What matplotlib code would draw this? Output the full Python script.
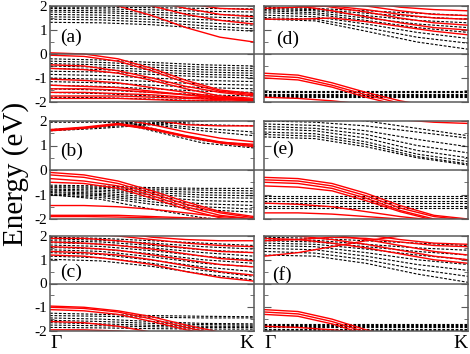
import numpy as np
import matplotlib
matplotlib.use("Agg")
import matplotlib.pyplot as plt
from matplotlib.ticker import MultipleLocator

plt.rcParams['font.family'] = ['Liberation Serif', 'DejaVu Serif']
plt.rcParams['axes.unicode_minus'] = False

# bands along Gamma -> K (eV), each list sampled evenly from Gamma to K
a_red = [
    [2.5, 2.3, 2.0, 1.6, 1.1, 0.7, 0.5],
    [2.7, 2.5, 2.3, 2.0, 1.65, 1.4, 1.25],
    [2.8, 2.65, 2.45, 2.2, 1.9, 1.65, 1.55],
    [2.9, 2.8, 2.6, 2.35, 2.1, 1.9, 1.85],
    [0.05, 0.0, -0.2, -0.6, -1.1, -1.5, -1.65],
    [-0.05, -0.1, -0.3, -0.7, -1.2, -1.55, -1.7],
    [-0.45, -0.5, -0.7, -1.0, -1.35, -1.6, -1.75],
    [-0.6, -0.65, -0.8, -1.1, -1.45, -1.75, -1.85],
    [-1.05, -1.1, -1.2, -1.4, -1.6, -1.8, -1.9],
    [-1.3, -1.35, -1.4, -1.55, -1.7, -1.85, -1.95],
    [-1.45, -1.45, -1.5, -1.6, -1.7, -1.8, -1.9],
    [-1.6, -1.6, -1.65, -1.7, -1.8, -1.85, -1.95],
    [-1.75, -1.75, -1.75, -1.8, -1.85, -1.9, -1.95],
    [-1.85, -1.85, -1.85, -1.9, -1.95, -1.95, -2.0],
]
a_black = [
    [1.95, 1.95, 1.93, 1.9, 1.88],
    [1.9, 1.88, 1.84, 1.78, 1.75],
    [1.82, 1.8, 1.74, 1.66, 1.6],
    [1.75, 1.72, 1.65, 1.55, 1.48],
    [1.65, 1.62, 1.55, 1.43, 1.35],
    [1.55, 1.52, 1.44, 1.3, 1.2],
    [1.45, 1.42, 1.33, 1.18, 1.05],
    [1.32, 1.3, 1.22, 1.07, 0.95],
    [-0.2, -0.25, -0.35, -0.45, -0.5],
    [-0.3, -0.35, -0.45, -0.55, -0.6],
    [-0.4, -0.45, -0.55, -0.65, -0.7],
    [-0.5, -0.55, -0.65, -0.75, -0.8],
    [-0.6, -0.65, -0.75, -0.85, -0.9],
    [-0.72, -0.75, -0.85, -0.95, -1.0],
    [-0.85, -0.9, -1.0, -1.1, -1.15],
    [-1.0, -1.05, -1.15, -1.25, -1.3],
    [-1.15, -1.2, -1.3, -1.4, -1.45],
    [-1.3, -1.35, -1.45, -1.55, -1.6],
    [-1.45, -1.5, -1.6, -1.7, -1.75],
    [-1.6, -1.65, -1.75, -1.85, -1.9],
    [-1.8, -1.82, -1.88, -1.95, -2.0],
]

b_red = [
    [1.65, 1.75, 1.9, 1.7, 1.4, 1.15, 1.0],
    [1.6, 1.7, 1.85, 1.65, 1.35, 1.1, 0.95],
    [1.62, 1.72, 1.87, 1.67, 1.38, 1.13, 1.05],
    [2.4, 2.3, 2.1, 1.85, 1.55, 1.3, 1.15],
    [2.6, 2.5, 2.3, 2.05, 1.85, 1.8, 1.8],
    [-0.1, -0.2, -0.45, -0.85, -1.3, -1.7, -1.9],
    [-0.2, -0.3, -0.55, -0.95, -1.4, -1.75, -1.95],
    [-0.35, -0.45, -0.65, -1.05, -1.5, -1.85, -2.0],
    [-0.5, -0.55, -0.75, -1.15, -1.6, -1.95, -2.1],
    [-1.45, -1.45, -1.5, -1.6, -1.75, -1.9, -2.0],
    [-1.85, -1.85, -1.85, -1.9, -1.95, -2.0, -2.05],
    [-1.9, -1.9, -1.92, -1.95, -2.0, -2.05, -2.1],
]
b_black = [
    [1.6, 1.7, 1.85, 2.0, 2.15],
    [1.65, 1.75, 1.9, 2.05, 2.2],
    [1.95, 1.95, 1.85, 1.6, 1.4],
    [2.05, 2.0, 1.9, 1.7, 1.55],
    [2.2, 2.1, 1.95, 1.85, 1.8],
    [2.3, 2.1, 1.6, 1.1, 0.9],
    [2.4, 2.2, 1.7, 1.2, 1.0],
    [-0.62, -0.65, -0.72, -0.75, -0.75],
    [-0.68, -0.7, -0.78, -0.82, -0.85],
    [-0.72, -0.75, -0.85, -0.92, -0.95],
    [-0.78, -0.82, -0.92, -1.02, -1.05],
    [-0.82, -0.88, -1.0, -1.12, -1.15],
    [-0.88, -0.95, -1.1, -1.25, -1.3],
    [-0.92, -1.0, -1.2, -1.38, -1.45],
    [-0.98, -1.05, -1.3, -1.5, -1.6],
    [-1.03, -1.12, -1.4, -1.62, -1.72],
    [-1.0, -1.2, -1.6, -1.95, -2.1],
]

c_red = [
    [1.2, 1.15, 1.0, 0.8, 0.5, 0.25, 0.1],
    [1.35, 1.3, 1.2, 1.0, 0.75, 0.5, 0.35],
    [1.55, 1.5, 1.4, 1.2, 1.0, 0.8, 0.7],
    [1.75, 1.7, 1.6, 1.45, 1.25, 1.05, 0.95],
    [1.9, 1.9, 1.8, 1.65, 1.5, 1.35, 1.3],
    [2.2, 2.1, 2.0, 1.85, 1.7, 1.6, 1.55],
    [2.4, 2.3, 2.15, 1.95, 1.85, 1.8, 1.8],
    [-0.95, -1.0, -1.15, -1.4, -1.75, -2.05, -2.3],
    [-1.0, -1.05, -1.2, -1.5, -1.85, -2.15, -2.3],
    [-1.1, -1.15, -1.3, -1.6, -1.95, -2.2, -2.3],
    [-1.6, -1.65, -1.8, -2.05, -2.25, -2.3, -2.3],
    [-1.95, -1.95, -2.0, -2.1, -2.2, -2.3, -2.3],
]
c_black = [
    [1.95, 1.9, 1.8, 1.7, 1.6],
    [1.88, 1.82, 1.7, 1.55, 1.45],
    [1.8, 1.75, 1.6, 1.42, 1.3],
    [1.72, 1.66, 1.5, 1.3, 1.15],
    [1.62, 1.56, 1.38, 1.15, 1.0],
    [1.52, 1.45, 1.25, 1.0, 0.85],
    [1.42, 1.35, 1.12, 0.85, 0.7],
    [1.3, 1.22, 0.98, 0.7, 0.5],
    [1.15, 1.08, 0.85, 0.55, 0.3],
    [1.02, 0.95, 0.72, 0.4, 0.15],
    [-1.25, -1.3, -1.35, -1.38, -1.4],
    [-1.35, -1.38, -1.42, -1.45, -1.45],
    [-1.45, -1.5, -1.6, -1.68, -1.7],
    [-1.55, -1.6, -1.68, -1.73, -1.75],
    [-1.65, -1.7, -1.76, -1.8, -1.8],
    [-1.75, -1.78, -1.82, -1.85, -1.85],
    [-1.85, -1.87, -1.9, -1.92, -1.92],
]

d_red = [
    [1.45, 1.45, 1.5, 1.35, 1.15, 0.95, 0.8],
    [2.2, 2.0, 1.8, 1.55, 1.3, 1.1, 1.0],
    [2.3, 2.15, 1.95, 1.75, 1.5, 1.3, 1.2],
    [1.9, 1.95, 2.0, 1.85, 1.65, 1.5, 1.45],
    [2.5, 2.4, 2.2, 2.0, 1.8, 1.65, 1.6],
    [2.6, 2.5, 2.35, 2.15, 1.95, 1.85, 1.8],
    [-0.8, -0.88, -1.2, -1.6, -1.95, -2.2, -2.3],
    [-0.9, -0.98, -1.3, -1.7, -2.05, -2.3, -2.3],
    [-1.0, -1.08, -1.38, -1.8, -2.15, -2.3, -2.3],
    [-1.8, -1.85, -1.95, -2.1, -2.3, -2.3, -2.3],
]
d_black = [
    [1.95, 1.9, 1.8, 1.7, 1.6],
    [1.9, 1.85, 1.7, 1.55, 1.45],
    [1.85, 1.8, 1.6, 1.4, 1.3],
    [1.8, 1.72, 1.5, 1.25, 1.1],
    [1.72, 1.65, 1.4, 1.1, 0.9],
    [1.62, 1.55, 1.25, 0.9, 0.65],
    [1.52, 1.45, 1.1, 0.7, 0.45],
    [1.45, 1.38, 0.95, 0.5, 0.2],
    [-1.55, -1.55],
    [-1.6, -1.6],
    [-1.65, -1.65],
    [-1.7, -1.7],
    [-1.75, -1.75],
    [-1.8, -1.8],
]

e_red = [
    [2.5, 2.45, 2.35, 2.2, 2.05, 1.95, 1.9],
    [2.6, 2.55, 2.45, 2.3, 2.15, 2.05, 2.0],
    [-0.3, -0.35, -0.55, -0.95, -1.45, -1.85, -2.0],
    [-0.4, -0.45, -0.65, -1.05, -1.55, -1.9, -2.05],
    [-0.5, -0.55, -0.75, -1.15, -1.65, -2.0, -2.1],
    [-0.65, -0.7, -0.85, -1.25, -1.7, -2.05, -2.15],
    [-1.35, -1.4, -1.5, -1.7, -1.9, -2.05, -2.1],
    [-1.75, -1.75, -1.8, -1.9, -2.0, -2.1, -2.1],
]
e_black = [
    [2.0, 1.95, 1.8, 1.55, 1.3],
    [1.88, 1.82, 1.6, 1.25, 0.95],
    [1.78, 1.7, 1.45, 1.0, 0.7],
    [1.68, 1.6, 1.3, 0.8, 0.5],
    [1.55, 1.48, 1.15, 0.65, 0.35],
    [1.45, 1.38, 1.05, 0.55, 0.25],
    [1.35, 1.28, 0.95, 0.5, 0.2],
    [2.3, 2.2, 2.0, 1.7, 1.4],
    [-1.05, -1.05],
    [-1.15, -1.15],
    [-1.25, -1.25],
    [-1.35, -1.35],
    [-1.45, -1.45],
    [-1.55, -1.55],
]

f_red = [
    [1.15, 1.3, 1.55, 1.8, 2.0, 2.2, 2.3],
    [1.9, 1.85, 1.7, 1.5, 1.25, 1.0, 0.85],
    [2.1, 2.0, 1.85, 1.65, 1.4, 1.15, 1.0],
    [2.3, 2.2, 2.05, 1.85, 1.6, 1.35, 1.2],
    [1.8, 1.85, 1.95, 1.9, 1.75, 1.6, 1.55],
    [2.5, 2.4, 2.25, 2.05, 1.85, 1.7, 1.65],
    [-1.1, -1.18, -1.5, -1.95, -2.3, -2.3, -2.3],
    [-1.2, -1.28, -1.6, -2.05, -2.3, -2.3, -2.3],
    [-1.3, -1.38, -1.7, -2.15, -2.3, -2.3, -2.3],
    [-1.8, -1.85, -1.95, -2.1, -2.3, -2.3, -2.3],
]
f_black = [
    [1.95, 1.9, 1.8, 1.7, 1.6],
    [1.88, 1.82, 1.65, 1.5, 1.4],
    [1.8, 1.75, 1.55, 1.35, 1.2],
    [1.7, 1.65, 1.45, 1.2, 1.0],
    [1.6, 1.55, 1.3, 1.0, 0.8],
    [1.48, 1.42, 1.15, 0.8, 0.55],
    [1.35, 1.28, 1.0, 0.6, 0.3],
    [1.2, 1.15, 0.85, 0.4, 0.05],
    [-1.7, -1.7],
    [-1.75, -1.75],
    [-1.8, -1.8],
    [-1.85, -1.85],
    [-1.9, -1.9],
    [-1.95, -1.95],
]

labels = ['(a)', '(b)', '(c)', '(d)', '(e)', '(f)']
label_pos = [(0.05, 0.7), (0.05, 0.75), (0.05, 0.45), (0.06, 0.6), (0.04, 0.85), (0.04, 0.35)]
k_labels = ['\u0393', 'K']

fig = plt.figure(figsize=(4.7, 3.54), dpi=100)
W, H = 470, 354
cols = [50, 264]
rows = [(6, 102), (121, 219), (236, 331)]
panels = [(a_red, a_black), (b_red, b_black), (c_red, c_black),
          (d_red, d_black), (e_red, e_black), (f_red, f_black)]
frame = '#5a5a5a'

for i, (red, black) in enumerate(panels):
    c, r = divmod(i, 3)
    top, bot = rows[r]
    ax = fig.add_axes([cols[c] / W, 1 - bot / H, 204 / W, (bot - top) / H])
    for band in black:
        k = np.linspace(0, 1, len(band))
        ax.plot(k, band, color='black', lw=0.8, dashes=(2.5, 1.5))
    for band in red:
        k = np.linspace(0, 1, len(band))
        ax.plot(k, band, color='red', lw=1.0)
    if c == 0:
        ax.axhline(0, xmin=0, xmax=(468 - 50) / 204, color=frame, lw=1.1, clip_on=False, zorder=5)
    else:
        ax.axhline(0, color=frame, lw=1.1, zorder=5)
    ax.set_xlim(0, 1)
    ax.set_ylim(-2, 2)
    ax.yaxis.set_major_locator(MultipleLocator(1))
    ax.yaxis.set_minor_locator(MultipleLocator(0.5))
    ax.tick_params(axis='y', which='both', direction='in', left=True, right=True,
                   color=frame, labelsize=11, pad=2)
    ax.tick_params(axis='y', which='major', length=5)
    ax.tick_params(axis='y', which='minor', length=3)
    if c == 1:
        ax.tick_params(axis='y', labelleft=False)
    if r == 2:
        ax.set_xticks([0, 1])
        ax.set_xticklabels(k_labels, fontsize=14)
        ax.get_xticklabels()[0].set_ha('left')
        ax.get_xticklabels()[1].set_ha('right')
        ax.tick_params(axis='x', length=0, pad=3)
    else:
        ax.set_xticks([])
    for s in ax.spines.values():
        s.set_color(frame)
        s.set_linewidth(1.1)
    ax.text(label_pos[i][0], label_pos[i][1], labels[i], fontsize=14, va='center', ha='left')

fig.text(0.032, 0.51, 'Energy (eV)', rotation=90, va='center', ha='center', fontsize=21)

fig.savefig('out.png', dpi=100)
